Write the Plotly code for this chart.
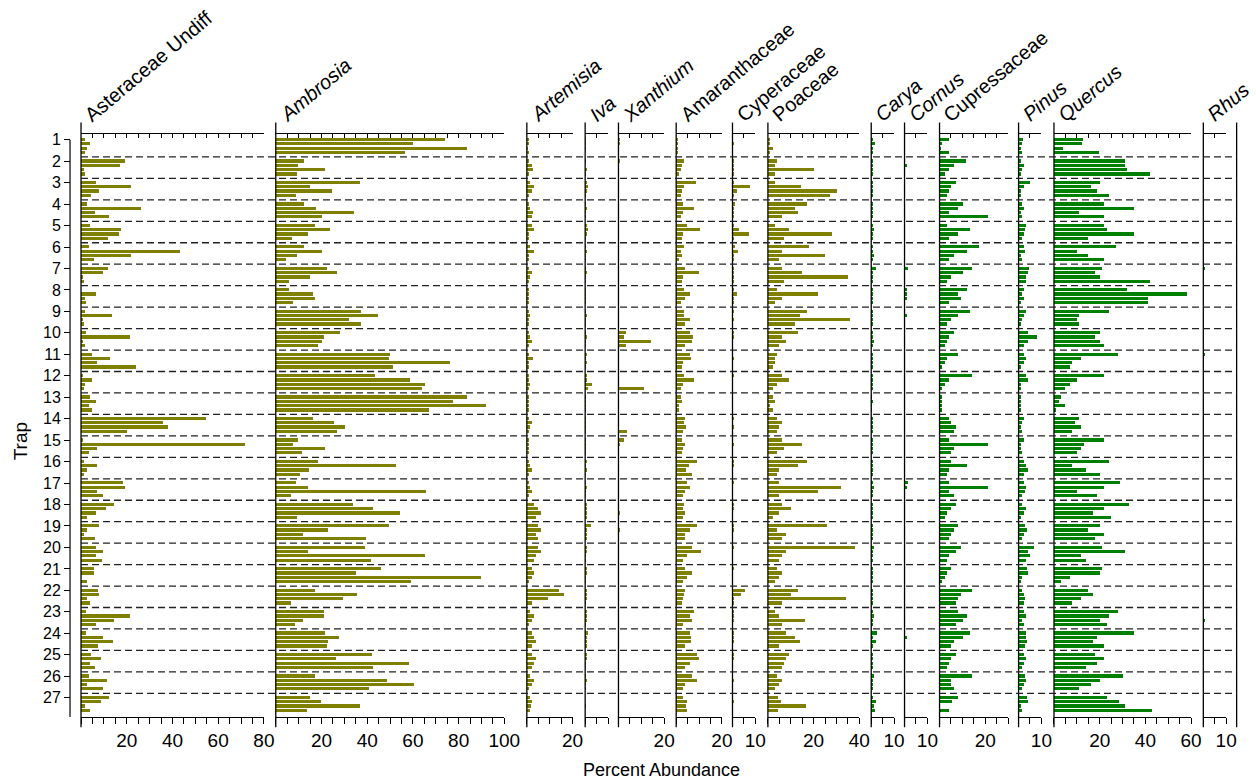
import plotly.graph_objects as go

# ---------------- data ----------------
traps = list(range(1, 28))
samples_per_trap = 4

taxa = ["Asteraceae Undiff", "Ambrosia", "Artemisia", "Iva", "Xanthium",
        "Amaranthaceae", "Cyperaceae", "Poaceae", "Carya", "Cornus",
        "Cupressaceae", "Pinus", "Quercus", "Rhus"]
italic = [False, True, True, True, True, False, False, False, True, True,
          False, True, True, True]
group = ["herb"] * 8 + ["tree"] * 6
axis_max = [80, 100, 20, 10, 20, 20, 10, 40, 10, 10, 30, 10, 60, 10]
tick_labels = [[20, 40, 60, 80], [20, 40, 60, 80, 100], [20], [], [20], [20],
               [10], [20, 40], [10], [10], [20], [10], [20, 40, 60], [10]]

asteraceae = [1.8, 3.9, 2.8, 1.8, 19.1, 17.1, 1.2, 1.9, 6.6, 21.7, 8.0, 4.4,
              2.8, 26.1, 6.0, 12.3, 3.9, 17.7, 16.5, 11.7, 3.4, 43.5, 21.7, 5.5,
              11.7, 9.6, 0.6, 1.2, 0, 6.6, 1.8, 2.3, 1.8, 13.4, 0.6, 1.2,
              2.3, 21.3, 0.6, 1.8, 5.0, 12.8, 7.0, 23.9, 0.6, 5.0, 1.8, 1.2,
              3.9, 6.6, 3.4, 5.0, 54.6, 36.0, 38.2, 20.1, 0.6, 71.8, 7.0, 3.4,
              1.2, 7.0, 2.8, 1.2, 18.5, 19.1, 7.0, 9.6, 14.4, 10.8, 6.6, 2.8,
              8.0, 2.8, 1.2, 6.0, 6.6, 9.6, 6.6, 9.0, 5.5, 5.5, 0, 2.8,
              7.6, 8.0, 2.8, 3.9, 2.3, 21.3, 14.4, 6.6, 2.3, 9.6, 13.9, 7.6,
              4.4, 8.6, 3.9, 6.0, 3.4, 11.2, 2.8, 9.6, 12.3, 8.6, 1.8, 3.9]
ambrosia = [74.0, 59.8, 83.6, 56.6, 12.4, 9.8, 21.4, 9.2, 36.6, 15.0, 24.5, 8.8,
            12.4, 17.7, 34.1, 20.3, 17.1, 23.5, 14.0, 7.0, 12.4, 20.3, 9.2, 4.4,
            22.5, 26.7, 15.0, 5.5, 5.5, 16.0, 17.1, 7.6, 37.2, 44.5, 32.0, 37.2,
            28.2, 20.9, 20.3, 18.2, 49.7, 49.3, 76.1, 51.4, 43.5, 58.6, 65.1, 64.0,
            83.6, 77.6, 91.9, 67.1, 16.0, 25.5, 30.3, 26.7, 9.8, 7.6, 21.4, 11.4,
            18.2, 52.4, 14.6, 10.4, 8.8, 14.0, 65.6, 6.6, 33.6, 42.5, 54.4, 9.2,
            49.3, 22.9, 11.8, 39.2, 38.8, 14.0, 65.1, 41.7, 46.1, 35.2, 89.7, 59.2,
            17.1, 35.6, 29.3, 6.6, 20.9, 20.9, 11.8, 8.2, 21.4, 27.7, 22.9, 22.5,
            41.9, 26.1, 58.2, 42.5, 17.1, 48.7, 60.2, 40.8, 15.0, 19.7, 36.6, 13.4]
artemisia = [0.5, 0.8, 0.3, 0.5, 1, 2, 2.5, 1, 1.5, 3, 2, 1, 1, 1.5, 2.5, 2,
             2, 3, 1, 1, 1.5, 3, 1, 0.5, 1, 2, 1.5, 0.5, 0.5, 1, 0.5, 1,
             1, 1.5, 1, 0.5, 1, 1.5, 2, 1, 1, 2.5, 1, 0.5, 0.5, 1, 1.5, 0.5,
             0.5, 1, 0.5, 0.5, 1, 2, 1.5, 1, 0.5, 1, 1, 0.5, 1, 1.5, 2, 1,
             1, 1.5, 2, 1, 3, 5, 6, 4, 5, 6, 4, 5, 5, 6, 4, 3,
             2, 3, 2, 1, 14, 16, 9, 2, 1.5, 3, 2, 1, 2, 3, 4, 2,
             2, 4, 3, 2, 1.5, 3, 2, 1, 1.5, 2.2, 1.9, 1.5]
iva = [0.3, 0.2, 0.3, 0, 0.3, 0, 0.5, 0.2, 0.5, 1.5, 0.5, 0.3, 0.3, 0.5, 0.3, 0.2,
       0.5, 1.5, 0.5, 0.3, 0.3, 0.5, 0.3, 0.2, 0.3, 0.5, 0.3, 0.2, 0.2, 0.3, 0.2, 0.2,
       0.3, 0.5, 0.3, 0.2, 0.3, 0.5, 0.3, 0.2, 0.5, 0.3, 0.5, 0.2, 0.5, 0.5, 3, 1.5,
       0.2, 0.3, 0.2, 0.2, 0.3, 0.2, 0.3, 0.2, 0.3, 0.3, 0.2, 0.2, 0.5, 0.3, 0.5, 0.3,
       0.3, 0.5, 0.3, 0.2, 1, 0.5, 1, 0.5, 2.5, 1, 0.5, 0.5, 0.5, 0.5, 0.3, 0.3,
       0.5, 0.5, 0.3, 0.3, 0.5, 1, 0.5, 0.3, 1, 0.5, 0.5, 0.3, 1.5, 1, 1, 0.5,
       0.5, 0.5, 0.3, 0.3, 0.3, 0.5, 0.3, 0.3, 0, 0, 0.4, 0]
xanthium = [1, 0.5, 0.3, 0, 0.5, 0, 0, 0, 0, 0.3, 0, 0, 0, 0, 0, 0,
            0, 0.3, 0, 0, 0, 0, 0, 0, 0, 0, 0, 0, 0, 0, 0, 0,
            0, 0.3, 0, 0, 3.5, 2.5, 14.5, 3.5, 0, 0, 0, 0, 0, 0, 0, 11.5,
            0, 0, 0, 0, 0, 0, 0, 3.8, 2.5, 0.5, 0, 0, 0, 0, 0, 0,
            0, 0, 0, 0, 0, 0, 1, 0, 0, 0.5, 0, 0, 0, 0, 0, 0,
            0, 0, 0, 0, 0, 0, 0, 0, 0, 0, 0, 0, 0, 0, 0, 0,
            0, 0, 0, 0, 0, 0, 0, 0, 0, 0, 0, 0]
amaranthaceae = [1, 1, 0.5, 1, 3.5, 2.5, 2, 1.5, 8.8, 3.5, 2.5, 2, 3, 7.9, 3, 2,
                 5, 10.5, 3, 2.5, 3.5, 2, 2.5, 1.5, 4, 10, 3, 2.5, 3.5, 6, 4, 2,
                 3.5, 3.5, 6, 4, 6, 7.5, 7, 4, 6, 6.5, 3, 2.5, 3.5, 8, 3, 2,
                 2, 2.5, 1.5, 1.5, 4, 3.5, 4.5, 3, 2.5, 4, 3, 2.5, 9, 5.5, 4.5, 7,
                 5, 6, 4, 3, 3.5, 3, 4, 3, 9, 6, 4, 4, 7, 11, 5, 3,
                 4, 7, 5, 3, 4, 3.5, 3, 2.5, 8, 6, 7, 3, 6, 6.5, 6.5, 4,
                 9, 10, 6, 4, 7, 9, 4, 3, 2.9, 5.0, 4.4, 4.7]
cyperaceae = [0.3, 0.5, 0.3, 0.2, 0.5, 1, 0.5, 0.5, 1, 8, 2, 1, 1.5, 1, 0.5, 0.5,
              1, 3, 7.5, 1, 1.5, 2.5, 1, 0.5, 1, 0.5, 0.5, 0.5, 0.5, 2, 1, 0.5,
              0.5, 0.3, 0.5, 0.3, 0.5, 0.5, 0.3, 0.3, 0.3, 0.5, 0.3, 0.3, 0.5, 0.3, 0.3, 0.3,
              0.3, 0.3, 0.3, 0.3, 0.5, 0.3, 0.5, 0.3, 0.3, 0.5, 0.3, 0.3, 0.5, 0.5, 0.3, 0.3,
              0.5, 0.3, 0.3, 0.3, 0.5, 0.5, 0.3, 0.3, 0.5, 0.5, 0.3, 0.3, 0.5, 0.3, 0.3, 0.3,
              0.5, 0.3, 0.3, 0.3, 5.5, 4, 1, 1, 0.5, 1, 0.5, 0.3, 0.5, 1, 0.5, 0.3,
              0.5, 0.5, 0.3, 0.3, 0.3, 0.5, 0.3, 0.3, 0.3, 0.5, 0.3, 0.3]
poaceae = [1, 0.5, 2, 1, 4, 3, 20, 3, 3, 14.5, 30, 27, 17, 12, 13, 6,
           3, 9, 28, 7, 18, 6, 25, 5, 6, 15, 35, 7, 4, 22, 6, 3,
           17, 14, 36, 12, 13, 6, 8, 5, 4, 3, 3, 2, 6, 9, 4, 2,
           2, 3, 1, 2, 4, 6, 5, 4, 6, 15, 7, 4, 17, 13, 5, 4,
           5, 32, 22, 5, 6, 10, 5, 2, 26, 4, 8, 6, 38, 8, 6, 5,
           4, 6, 5, 3, 13, 10, 34, 6, 3, 5, 16, 6, 8, 12, 14, 5,
           9, 8, 7, 6, 4, 6, 5, 3, 4.2, 5.8, 16.8, 4.2]
carya = [0.6, 1.8, 0.9, 0.6, 0.5, 1, 0.5, 0.5, 1, 0.5, 1, 0.5, 0.5, 1, 0.5, 0.5,
         1, 1.5, 0.5, 0.5, 1, 0.5, 1.5, 0.5, 2, 1, 0.5, 1, 0.5, 1, 0.5, 0.5,
         1, 0.5, 1, 0.5, 1, 0.5, 1.5, 1, 1, 0.5, 1, 0.5, 0.5, 1, 0.5, 0.5,
         0.3, 0.5, 0.3, 0.3, 0.5, 1, 0.5, 0.5, 1, 0.5, 0.5, 0.5, 0.5, 1, 0.5, 0.5,
         1, 1.5, 1, 0.5, 1, 0.5, 1, 0.5, 1, 1, 0.5, 0.5, 1.5, 1, 0.5, 1,
         0.5, 1, 0.5, 0.5, 1, 0.5, 1, 0.5, 1, 1.5, 0.5, 1, 2.5, 1, 2, 0.5,
         1, 0.5, 1, 0.5, 1.5, 0.5, 1, 0.5, 0.6, 2.2, 1.3, 1.8]
cornus = [0, 0, 0, 0, 0, 0.5, 0, 0, 0, 0, 0, 0, 0, 0, 0, 0,
          0, 0, 0, 0, 0, 0, 0, 0, 1.5, 0, 0, 0, 0.5, 1, 0.5, 0,
          0, 0.5, 0, 0, 0, 0, 0, 0, 0, 0, 0, 0, 0, 0, 0, 0,
          0, 0, 0, 0, 0, 0, 0, 0, 0, 0, 0, 0, 0, 0, 0, 0,
          1.5, 0.5, 0, 0, 0, 0, 0, 0, 0, 0, 0, 0, 0, 0, 0, 0,
          0, 0, 0, 0, 0, 0, 0, 0, 0, 0, 0, 0, 0, 0.5, 0, 0,
          0, 0, 0, 0, 0, 0, 0, 0, 0, 0, 0, 0]
cupressaceae = [3.9, 1.0, 0.3, 3.9, 11.4, 6, 4, 2, 7, 5, 4, 3, 10, 8, 4, 21,
                3, 13, 8, 4, 17, 12, 6, 4, 14, 10, 5, 3, 12, 8, 9, 4,
                13, 8, 5, 3, 6, 4, 3, 2, 8, 3, 2, 1, 14, 4, 2, 1,
                1, 1, 0.5, 1, 4, 5, 7, 6, 4, 21, 6, 5, 5, 12, 4, 3,
                4, 21, 4, 6, 7, 5, 3, 2, 8, 6, 5, 4, 9, 7, 4, 3,
                5, 3, 2, 1, 14, 9, 8, 7, 8, 12, 10, 7, 13, 10, 6, 5,
                7, 5, 4, 3, 14, 5, 5, 6, 8, 5.4, 0, 3.9]
pinus = [1.9, 1.2, 0.8, 1.5, 1, 2, 1.5, 1, 5, 2, 1, 1, 1.5, 2, 1, 1.5,
         3, 2.5, 2, 1.5, 2, 2.5, 1, 1.5, 4.5, 4, 3, 3, 2, 1.5, 2, 1,
         3, 2, 1.5, 1, 4, 8, 4, 2, 2, 3, 2, 1, 3, 4, 1, 1,
         0.5, 1, 0.5, 0.5, 2, 1.5, 1, 1.5, 2, 1, 1, 1.5, 2, 3, 4, 2,
         2, 3, 2.5, 1.5, 1.5, 3, 2, 1, 2.5, 3.5, 2, 1.5, 6.5, 4, 5, 3,
         3.5, 4, 1.5, 1, 1.5, 2, 2.5, 2, 2, 3, 1.5, 2, 3, 3, 3.5, 2.5,
         2, 3, 2, 1.5, 2.5, 3, 2, 1.5, 3.4, 4.1, 0.9, 1.5]
quercus = [12.7, 12.3, 3.9, 19.7, 31, 31, 32, 42, 20, 16, 19, 24, 22, 35, 11, 22,
           22, 23, 35, 15, 27, 10, 15, 22, 21, 18, 20, 42, 32, 58, 41, 41,
           24, 11, 10, 11, 20, 18, 20, 22, 28, 12, 8, 7, 22, 10, 7, 5,
           3, 2, 5, 1, 11, 9, 12, 8, 22, 13, 12, 10, 24, 8, 14, 20,
           29, 22, 10, 19, 33, 22, 17, 25, 20, 15, 22, 18, 21, 31, 12, 14,
           21, 20, 7, 3, 15, 17, 12, 8, 28, 24, 20, 23, 35, 19, 17, 22,
           18, 22, 19, 14, 30, 20, 16, 11, 23.3, 28.6, 31.2, 42.9]
rhus = [0, 0, 0, 0, 0, 0, 0, 0, 0, 0, 0, 0, 0, 0, 0, 0,
        0, 0, 0, 0, 0, 0, 0, 0, 0.5, 0, 0, 0, 0, 0, 0, 0,
        0, 0, 0, 0, 0, 0, 0, 0, 0.8, 0, 0, 0, 0, 0, 0, 0,
        0, 0, 0, 0, 0, 0, 0, 0, 0, 0, 0, 0, 0, 0, 0, 0,
        0, 0, 0, 0, 0, 0, 0, 0.4, 0, 0, 0, 0, 0, 0, 0, 0,
        0, 0, 0, 0, 0, 0, 0, 0, 0, 0, 0.8, 0, 0, 0, 0, 0,
        0, 0, 0, 0, 0, 0, 0, 0, 0, 0, 0, 0]

series = [asteraceae, ambrosia, artemisia, iva, xanthium, amaranthaceae,
          cyperaceae, poaceae, carya, cornus, cupressaceae, pinus, quercus, rhus]

# ---------------- layout geometry (target pixels) ----------------
W, H = 1256, 782
XS = 1 / 0.987   # compensates the horizontal squeeze seen in the screenshot


def px(x):
    return x * XS / W


def py(y):
    return 1 - y / H


px_per_unit = 2.285
panel_left_px = [81, 275.7, 526.7, 585, 618.3, 676, 732.3, 767.7, 871, 904.3,
                 939.3, 1018.3, 1053.7, 1203]
right_line_px = 1236.3
plot_top_px, plot_bottom_px = 131.7, 716.7
y_top_val, y_bottom_val = 0.74, 27.90
colors = {"herb": "#808000", "tree": "#008000"}
FONT = "Liberation Sans, Arial, Helvetica, sans-serif"

positions = [t + 0.2 * s for t in traps for s in range(samples_per_trap)]

fig = go.Figure()
layout = dict(
    width=W, height=H, margin=dict(l=0, r=0, t=0, b=0),
    paper_bgcolor="white", plot_bgcolor="rgba(0,0,0,0)",
    showlegend=False, font=dict(family=FONT, color="black"),
    bargap=0,
)

layout["yaxis"] = dict(
    domain=[py(plot_bottom_px), py(plot_top_px)],
    range=[y_bottom_val, y_top_val], anchor="free",
    position=px(70), showgrid=False, zeroline=False, showline=False,
    tickmode="array", tickvals=list(range(1, 29)),
    ticktext=[str(t) for t in traps] + [""],
    ticks="outside", ticklen=6, tickwidth=1.2, tickcolor="black",
    tickfont=dict(size=16, family=FONT),
)

shapes = []
annotations = []
n = len(taxa)
for i in range(n):
    k = i + 1
    xname = "x" if k == 1 else f"x{k}"
    x0 = panel_left_px[i]
    x1 = x0 + axis_max[i] * px_per_unit
    tv = list(range(0, axis_max[i] + 1, 5))
    tt = [str(v) if v in tick_labels[i] else "" for v in tv]
    layout[f"xaxis{k if k > 1 else ''}"] = dict(
        domain=[px(x0), px(x1)], range=[0, axis_max[i]], anchor="y",
        side="bottom", showgrid=False, zeroline=False, showline=True,
        linecolor="black", linewidth=1.2, tickmode="array", tickvals=tv,
        ticktext=tt, ticks="outside", ticklen=6, tickwidth=1.2,
        tickcolor="black", tickfont=dict(size=19, family=FONT),
        fixedrange=True,
    )
    kt = n + k
    layout[f"xaxis{kt}"] = dict(
        overlaying=xname, range=[0, axis_max[i]], anchor="y", side="top",
        showgrid=False, zeroline=False, showline=True, linecolor="black",
        linewidth=1.2, tickmode="array", tickvals=tv, showticklabels=False,
        ticks="inside", ticklen=4, tickwidth=1.2, tickcolor="black",
    )
    fig.add_trace(go.Bar(
        x=series[i], y=positions, orientation="h", width=0.15,
        marker=dict(color=colors[group[i]], line=dict(width=0)),
        xaxis=xname, yaxis="y", hoverinfo="x+y",
    ))
    fig.add_trace(go.Scatter(x=[], y=[], xaxis=f"x{kt}", yaxis="y",
                             showlegend=False))
    shapes.append(dict(type="line", xref="paper", yref="paper",
                       x0=px(x0), x1=px(x0), y0=py(120), y1=py(727),
                       line=dict(color="black", width=1.3)))
    label = f"<i>{taxa[i]}</i>" if italic[i] else taxa[i]
    annotations.append(dict(
        text=label, xref="paper", yref="paper", x=px(x0 - 3), y=py(126),
        xanchor="left", yanchor="bottom", showarrow=False, textangle=-40,
        font=dict(size=20, family=FONT, color="black"),
    ))

shapes.append(dict(type="line", xref="paper", yref="paper",
                   x0=px(right_line_px), x1=px(right_line_px),
                   y0=py(120), y1=py(727),
                   line=dict(color="black", width=1.3)))
shapes.append(dict(type="line", xref="paper", yref="y", x0=px(70), x1=px(70),
                   y0=1, y1=28, line=dict(color="black", width=1.2)))
for t in traps[:-1]:
    shapes.append(dict(type="line", xref="paper", yref="y",
                       x0=px(panel_left_px[0]), x1=px(right_line_px),
                       y0=t + 0.8, y1=t + 0.8,
                       line=dict(color="#222222", width=1.3, dash="7px,4px")))

annotations.append(dict(text="Trap", xref="paper", yref="paper",
                        x=px(20), y=py(440), xanchor="center",
                        yanchor="middle", showarrow=False,
                        textangle=-90, font=dict(size=19, family=FONT)))
annotations.append(dict(text="Percent Abundance", xref="paper", yref="paper",
                        x=px(661), y=py(770), xanchor="center",
                        yanchor="middle", showarrow=False,
                        font=dict(size=18, family=FONT)))

layout["shapes"] = shapes
layout["annotations"] = annotations
fig.update_layout(**layout)
fig.write_html("out.html", config={"displayModeBar": False},
               post_script="document.body.style.margin='0';"
                           "document.body.style.overflow='hidden';")
